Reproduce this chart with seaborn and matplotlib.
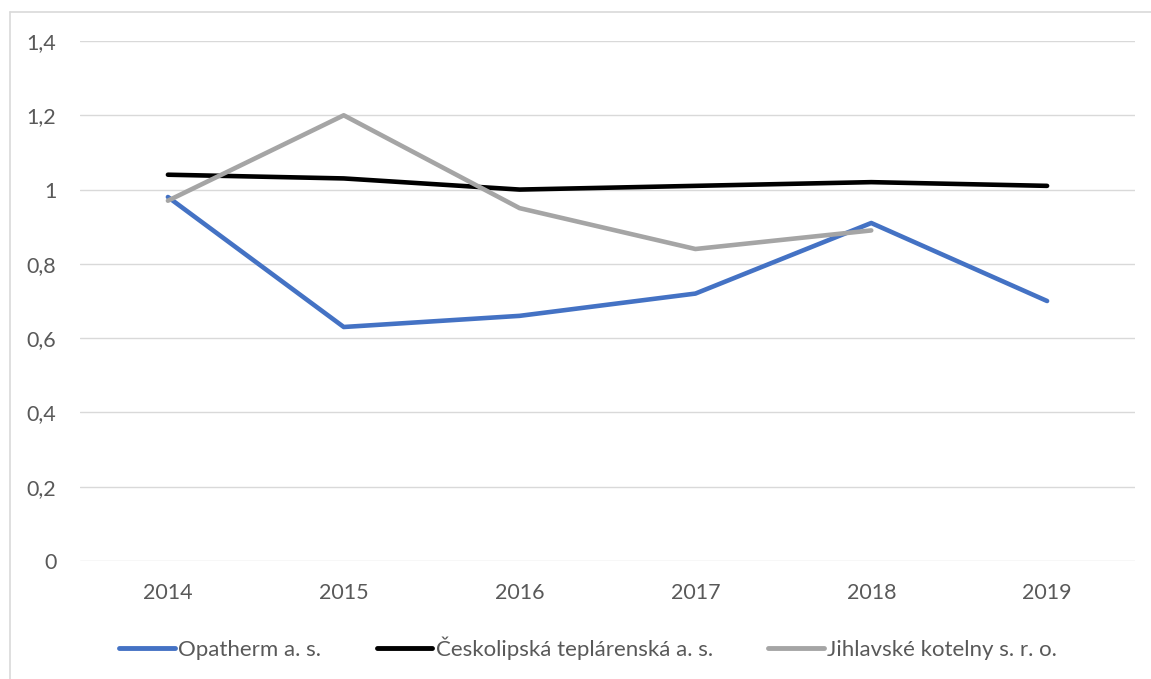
import pandas as pd
import numpy as np
import seaborn as sns
import matplotlib.pyplot as plt
from matplotlib.lines import Line2D

# data
roky = [2014, 2015, 2016, 2017, 2018, 2019]
opatherm = [0.98, 0.63, 0.66, 0.72, 0.91, 0.70]
ceskolipska = [1.04, 1.03, 1.00, 1.01, 1.02, 1.01]
jihlavske = [0.97, 1.20, 0.95, 0.84, 0.89, np.nan]

serie = ['Opatherm a. s.', 'Českolipská teplárenská a. s.', 'Jihlavské kotelny s. r. o.']
barvy = ['#4472C4', '#000000', '#A5A5A5']

df = pd.DataFrame({'rok': roky, serie[0]: opatherm, serie[1]: ceskolipska, serie[2]: jihlavske})
df = df.melt(id_vars='rok', var_name='firma', value_name='hodnota')

sns.set_style('white')
plt.rcParams['font.family'] = ['Lato', 'DejaVu Sans']
text_barva = '#595959'

fig = plt.figure(figsize=(11.51, 6.79), dpi=100)
ax = fig.add_axes([80/1151, 1 - 561/679, (1135 - 80)/1151, (561 - 41)/679])

sns.lineplot(data=df, x='rok', y='hodnota', hue='firma', hue_order=serie,
             palette=barvy, linewidth=3.3, ax=ax, legend=False,
             solid_capstyle='round')

ax.set_xlim(2013.5, 2019.5)
ax.set_ylim(0, 1.4)
ax.set_xticks(roky)
ax.set_xticklabels([str(r) for r in roky])
yt = [0, 0.2, 0.4, 0.6, 0.8, 1.0, 1.2, 1.4]
ax.set_yticks(yt)
ax.set_yticklabels(['0' if v == 0 else ('1' if v == 1 else f'{v:.1f}'.replace('.', ',')) for v in yt])
ax.grid(axis='y', color='#D9D9D9', linewidth=1)
ax.set_axisbelow(True)
for s in ax.spines.values():
    s.set_visible(False)
ax.tick_params(axis='both', length=0, labelsize=15.5, colors=text_barva)
ax.tick_params(axis='x', pad=16)
ax.tick_params(axis='y', pad=17)
ax.set_xlabel('')
ax.set_ylabel('')

handles = [Line2D([0], [0], color=c, linewidth=3.5, solid_capstyle='round') for c in barvy]
leg = fig.legend(handles, serie, loc='center', bbox_to_anchor=(0.511, 1 - 648/679), ncol=3,
                 frameon=False, fontsize=16, handlelength=2.5, handletextpad=0.15,
                 columnspacing=2.5)
for t in leg.get_texts():
    t.set_color(text_barva)

# chart border (top and left edge visible)
fig.add_artist(Line2D([10/1151, 10/1151], [0, 1 - 12/679], color='#D9D9D9', linewidth=1.2))
fig.add_artist(Line2D([10/1151, 1], [1 - 12/679, 1 - 12/679], color='#D9D9D9', linewidth=1.2))

fig.savefig('out.png', dpi=100)
